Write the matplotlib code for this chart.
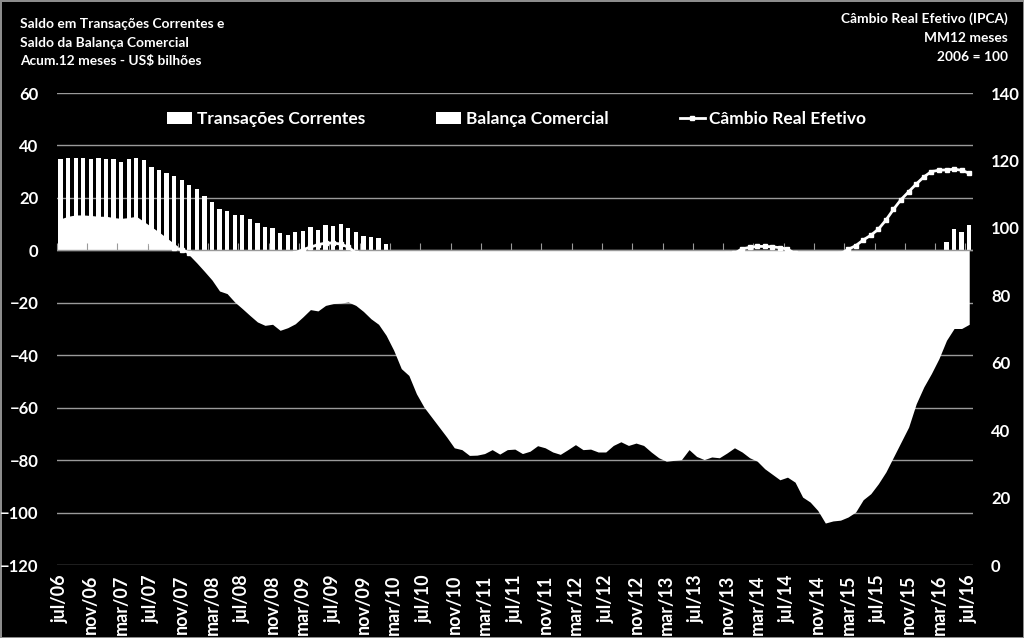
import matplotlib
matplotlib.use("Agg")
from matplotlib import pyplot as plt
from matplotlib.lines import Line2D
from matplotlib.patches import Patch
import numpy as np

plt.rcParams['font.family'] = ['Lato', 'DejaVu Sans']
plt.rcParams['font.weight'] = 'bold'

# meses jul/06 .. jul/16 (121 pontos), rótulo a cada 4 meses
tick_labels = ['jul/06', 'nov/06', 'mar/07', 'jul/07', 'nov/07', 'mar/08', 'jul/08',
               'nov/08', 'mar/09', 'jul/09', 'nov/09', 'mar/10', 'jul/10', 'nov/10',
               'mar/11', 'jul/11', 'nov/11', 'mar/12', 'jul/12', 'nov/12', 'mar/13',
               'jul/13', 'nov/13', 'mar/14', 'jul/14', 'nov/14', 'mar/15', 'jul/15',
               'nov/15', 'mar/16', 'jul/16']

# Transações Correntes (área) - US$ bi acum. 12 meses
transacoes = [12.0, 13.0, 13.5, 13.5, 13.3, 13.0, 13.0, 12.5, 12.2, 12.5, 13.0, 11.0,
              9.0, 7.0, 4.8, 2.6, 0.5, -1.8, -4.8, -8.0, -11.3, -15.5, -16.5, -19.7,
              -22.2, -24.8, -27.3, -28.6, -28.2, -30.5, -29.5, -28.0, -25.4, -22.6, -23.1, -21.0,
              -20.3, -20.1, -19.7, -21.0, -23.3, -26.1, -28.2, -32.4, -38.1, -45.1, -47.7, -54.7,
              -59.8, -63.6, -67.4, -71.2, -75.3, -76.0, -78.2, -78.1, -77.5, -76.0, -77.7, -76.0,
              -75.8, -77.5, -76.6, -74.5, -75.3, -76.9, -77.8, -76.0, -74.1, -76.0, -75.8, -76.9,
              -76.9, -74.4, -73.0, -74.4, -73.5, -74.4, -76.9, -79.1, -80.4, -80.1, -79.8, -76.0,
              -78.6, -79.8, -78.8, -79.1, -77.3, -75.3, -76.9, -79.1, -80.4, -83.3, -85.4, -87.5,
              -86.5, -88.4, -94.1, -96.0, -99.2, -104.0, -103.2, -102.9, -101.7, -99.8, -95.1, -92.8,
              -89.0, -84.5, -78.8, -73.1, -67.4, -58.5, -52.1, -47.0, -41.3, -34.3, -29.8, -29.8,
              -28.2]

# Balança Comercial (barras)
balanca = [34.7, 35.3, 35.3, 35.1, 34.7, 35.3, 34.7, 34.7, 33.7, 34.7, 35.1, 34.3,
           31.6, 30.6, 29.4, 28.5, 26.8, 24.9, 23.3, 20.8, 18.3, 15.6, 15.1, 13.6,
           13.6, 11.9, 10.3, 8.8, 8.5, 6.5, 5.8, 7.0, 7.5, 9.0, 7.9, 9.5,
           9.3, 9.9, 8.4, 6.9, 5.5, 5.2, 4.8, 2.4, 0.0, 0.0, 0.0, 0.0,
           0.0, 0.0, 0.0, 0.0, 0.0, 0.0, 0.0, 0.0, 0.0, 0.0, 0.0, 0.0,
           0.0, 0.0, 0.0, 0.0, 0.0, 0.0, 0.0, 0.0, 0.0, 0.0, 0.0, 0.0,
           0.0, 0.0, 0.0, 0.0, 0.0, 0.0, 0.0, 0.0, 0.0, 0.0, 0.0, 0.0,
           0.0, 0.0, 0.0, 0.0, 0.0, 0.0, 0.0, 0.0, 0.0, 0.0, 0.0, 0.0,
           0.0, 0.0, 0.0, 0.0, 0.0, 0.0, 0.0, 0.0, 0.0, 0.0, 0.0, 0.0,
           0.0, 0.0, 0.0, 0.0, 0.0, 0.0, 0.0, 0.0, 0.0, 3.3, 8.1, 7.1,
           9.6]

# Câmbio Real Efetivo (IPCA), MM12, 2006=100 - eixo direito
cambio = [100.0, 100.5, 100.5, 100.0, 99.5, 99.0, 98.5, 98.0, 97.5, 97.0, 96.5, 96.0,
          95.5, 95.0, 94.5, 94.0, 93.5, 92.6, 91.5, 90.5, 90.0, 89.5, 89.2, 89.0,
          89.0, 89.2, 89.5, 90.0, 90.5, 91.0, 91.8, 92.6, 93.5, 94.3, 95.0, 95.5,
          95.5, 95.2, 94.3, 92.6, 91.0, 89.0, 87.0, 85.0, 83.0, 81.5, 80.0, 79.0,
          78.0, 77.0, 76.5, 76.0, 75.5, 75.0, 74.8, 74.6, 74.5, 74.5, 74.6, 74.8,
          75.0, 75.5, 76.0, 77.0, 78.0, 79.0, 80.0, 81.0, 82.0, 83.0, 84.0, 85.0,
          86.0, 87.0, 88.0, 88.5, 89.0, 89.5, 90.0, 90.5, 91.0, 91.3, 91.6, 91.8,
          92.0, 92.0, 92.1, 92.1, 92.2, 92.4, 93.8, 94.2, 94.5, 94.5, 94.4, 94.1,
          93.7, 92.4, 92.0, 91.8, 91.6, 91.6, 91.8, 92.3, 93.6, 94.7, 96.4, 97.8,
          99.6, 102.3, 105.5, 108.4, 110.7, 113.0, 115.1, 116.7, 117.1, 117.2, 117.4, 117.1,
          116.2]

x = np.arange(len(transacoes))
grid_col = '#9a9a9a'

fig = plt.figure(figsize=(10.24, 6.38), dpi=100, facecolor='black',
                 edgecolor='#8c8c8c', linewidth=2)
ax1 = fig.add_subplot(111)
fig.subplots_adjust(left=0.0554, right=0.9502, top=0.8542, bottom=0.1144)
ax1.set_facecolor('black')

ax1.fill_between(x, transacoes, 0, color='white', lw=0, zorder=2)
ax1.bar(x, balanca, width=0.57, color='white', lw=0, zorder=2)

ax1.set_xlim(-0.5, len(x) - 0.5)
ax1.set_ylim(-120, 60)
ax1.set_yticks(np.arange(-120, 61, 20))
ax1.grid(axis='y', color=grid_col, lw=1)
ax1.set_axisbelow(True)
ax1.set_xticks(x[::4])
ax1.set_xticklabels(tick_labels, rotation=90, fontsize=13, color='white')
ax1.tick_params(axis='x', length=0, pad=7)
ax1.tick_params(axis='y', length=0, pad=13, labelsize=12, labelcolor='white')
for s in ax1.spines.values():
    s.set_visible(False)

# linha do eixo horizontal no zero, com marcas entre os rótulos
ax1.axhline(0, color=grid_col, lw=1, zorder=3)
sec = ax1.secondary_xaxis(2 / 3)
sec.set_xticks(np.arange(-0.5, len(x), 4))
sec.tick_params(axis='x', direction='out', length=5, color=grid_col, labelbottom=False,
                labeltop=False)
sec.spines['bottom'].set_visible(False)
sec.spines['top'].set_visible(False)
sec.set_zorder(5)

ax2 = ax1.twinx()
ax2.plot(x, cambio, color='white', lw=2, marker='s', markersize=3.2, zorder=4)
ax2.set_ylim(0, 140)
ax2.set_yticks(np.arange(0, 141, 20))
ax2.tick_params(axis='y', length=0, pad=13, labelsize=12, labelcolor='white')
for s in ax2.spines.values():
    s.set_visible(False)

handles = [Patch(facecolor='white', edgecolor='none'),
           Patch(facecolor='white', edgecolor='none'),
           Line2D([], [], color='white', lw=2, marker='s', markersize=3.2)]
leg = ax1.legend(handles, ['Transações Correntes', 'Balança Comercial', 'Câmbio Real Efetivo'],
                 loc='center', bbox_to_anchor=(0.502, 0.945), ncol=3, frameon=False,
                 fontsize=12.5, handlelength=1.45, handleheight=0.75, handletextpad=0.25,
                 columnspacing=4.1)
for t in leg.get_texts():
    t.set_color('white')

left_txt = ['Saldo em Transações Correntes e', 'Saldo da Balança Comercial',
            'Acum.12 meses - US$ bilhões']
right_txt = ['Câmbio Real Efetivo (IPCA)', 'MM12 meses', '2006 = 100']
for i, t in enumerate(left_txt):
    fig.text(20 / 1024, 1 - (24 + 18.7 * i) / 638, t, color='white', fontsize=9.9,
             va='center', ha='left')
for i, t in enumerate(right_txt):
    fig.text(1008 / 1024, 1 - (19 + 19 * i) / 638, t, color='white', fontsize=9.9,
             va='center', ha='right')

fig.savefig('out.png', dpi=100, facecolor='black')
